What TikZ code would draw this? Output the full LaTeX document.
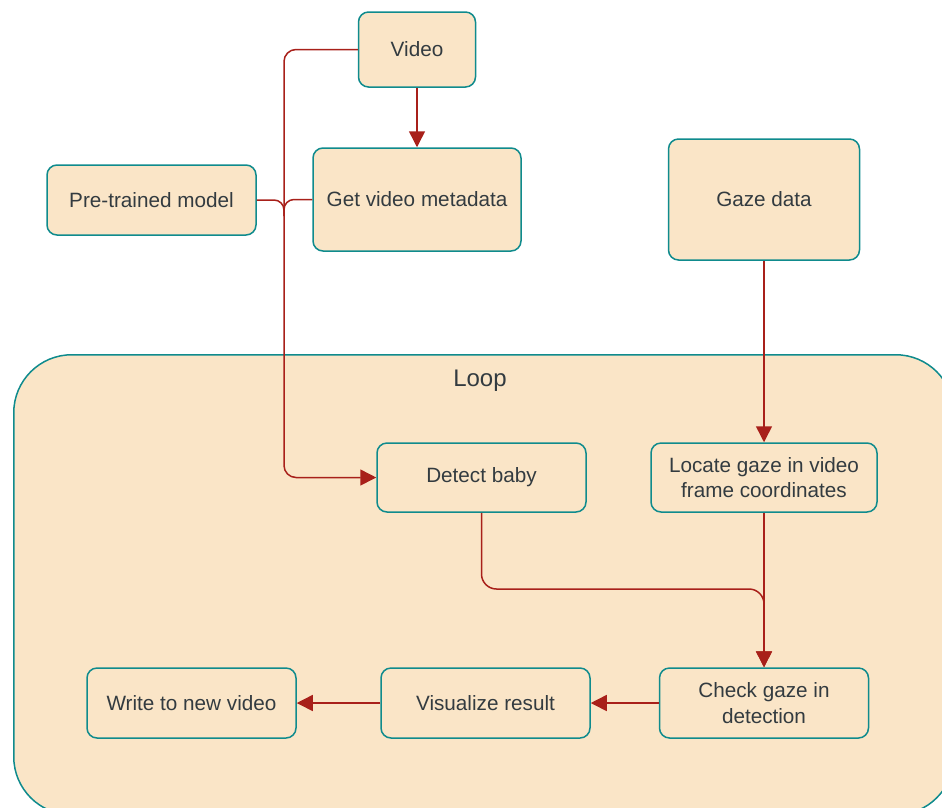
\documentclass[tikz,border=0pt]{standalone}
\usepackage{fontspec}
\setmainfont{Liberation Sans}
\usetikzlibrary{arrows.meta}
\definecolor{boxfill}{HTML}{FAE5C7}
\definecolor{boxline}{HTML}{0F8B8D}
\definecolor{txt}{HTML}{333B40}
\definecolor{edgec}{HTML}{A8201A}
\begin{document}
\begin{tikzpicture}[x=1pt,y=-1pt,
  box/.style={draw=boxline, fill=boxfill, rounded corners=10pt, line width=1.5pt,
    text=txt, font=\fontsize{20.7}{25.5}\selectfont, align=center, inner sep=0pt},
  conn/.style={draw=edgec, line width=1.5pt, rounded corners=12pt},
  arr/.style={conn, -{Triangle[length=16pt,width=16pt]}}]
\useasboundingbox (0,0) rectangle (942,807);
\clip (0,0) rectangle (942,807);
% loop container
\node[draw=boxline, fill=boxfill, line width=1.5pt, rounded corners=58pt,
  minimum width=940pt, minimum height=460pt, inner sep=0pt, anchor=north west] (loop) at (13,354) {};
\node[text=txt, font=\fontsize{24}{28}\selectfont] (looplbl) at (480,381) {Loop};
% nodes
\node[box, minimum width=117pt, minimum height=75pt] (video) at (417,49.5) {Video};
\node[box, minimum width=208pt, minimum height=103pt] (meta) at (417,199.5) {Get video metadata};
\node[box, minimum width=209pt, minimum height=70pt] (pre) at (151.5,200) {Pre-trained model};
\node[box, minimum width=191pt, minimum height=121pt] (gaze) at (764,199.5) {Gaze data};
\node[box, minimum width=209pt, minimum height=69pt] (detect) at (481.5,477.5) {Detect baby};
\node[box, minimum width=226pt, minimum height=69pt] (locate) at (764,477.5) {Locate gaze in video\\frame coordinates};
\node[box, minimum width=209pt, minimum height=70pt] (check) at (764,703) {Check gaze in\\detection};
\node[box, minimum width=209pt, minimum height=70pt] (vis) at (485.5,703) {Visualize result};
\node[box, minimum width=209pt, minimum height=70pt] (write) at (191.5,703) {Write to new video};
% junction coordinates
\coordinate (vx) at (284,49.5);
\coordinate (jn) at (284,216);
\coordinate (dx) at (284,477.5);
\coordinate (mg) at (481.5,589);
\coordinate (mg2) at (764,589);
% connectors
\draw[arr] (video) -- (meta);
\draw[arr] (video.west) -- (vx) -- (dx) -- (detect.west);
\draw[conn, rounded corners=10pt] (pre.east) -- (pre.east -| jn) -- (jn);
\draw[conn, rounded corners=10pt] (meta.west) -- (meta.west -| jn) -- (jn);
\draw[arr] (gaze) -- (locate);
\draw[arr] (locate) -- (check);
\draw[arr, rounded corners=15pt] (detect.south) -- (mg) -- (mg2) -- (check.north);
\draw[arr] (check) -- (vis);
\draw[arr] (vis) -- (write);
\end{tikzpicture}
\end{document}
